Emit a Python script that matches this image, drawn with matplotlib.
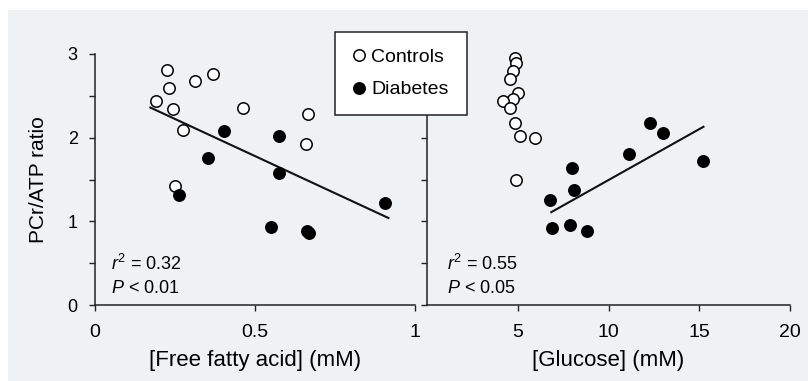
import matplotlib
matplotlib.use("Agg")
import matplotlib.pyplot as plt
from matplotlib.patches import Rectangle
from matplotlib.lines import Line2D
from matplotlib.ticker import MultipleLocator

# Free fatty acid panel
ffa_ctrl_x = [0.226, 0.231, 0.191, 0.245, 0.274, 0.313, 0.370, 0.463, 0.665, 0.658, 0.251]
ffa_ctrl_y = [2.81, 2.59, 2.44, 2.34, 2.09, 2.68, 2.76, 2.35, 2.28, 1.92, 1.42]
ffa_diab_x = [0.262, 0.402, 0.352, 0.576, 0.576, 0.550, 0.661, 0.670, 0.907]
ffa_diab_y = [1.32, 2.08, 1.76, 2.02, 1.58, 0.93, 0.89, 0.86, 1.22]
ffa_fit_x = [0.173, 0.917]
ffa_fit_y = [2.36, 1.04]

# Glucose panel
glu_ctrl_x = [4.86, 4.90, 4.73, 4.57, 4.99, 4.75, 4.18, 4.59, 4.86, 5.10, 5.93, 4.90]
glu_ctrl_y = [2.95, 2.89, 2.80, 2.70, 2.53, 2.46, 2.44, 2.36, 2.18, 2.02, 2.00, 1.49]
glu_diab_x = [7.97, 8.12, 6.80, 6.91, 7.86, 8.84, 11.12, 12.28, 13.00, 15.23]
glu_diab_y = [1.64, 1.38, 1.25, 0.92, 0.96, 0.89, 1.80, 2.17, 2.06, 1.72]
glu_fit_x = [6.85, 15.23]
glu_fit_y = [1.11, 2.13]

font = ['Liberation Sans', 'DejaVu Sans']

plt.rcParams['font.family'] = font
plt.rcParams['mathtext.fontset'] = 'custom'
plt.rcParams['mathtext.rm'] = 'Liberation Sans'
plt.rcParams['mathtext.it'] = 'Liberation Sans:italic'

bg = '#f0f1f3'
axc = '#222222'

fig = plt.figure(figsize=(8.08, 3.81), dpi=100, facecolor='white')
fig.patches.append(Rectangle((8 / 808, 0), 1, (381 - 10) / 381, transform=fig.transFigure,
                             facecolor=bg, edgecolor='none', zorder=-10))

ax1 = fig.add_axes([95 / 808, 76 / 381, 320 / 808, 251 / 381])
ax2 = fig.add_axes([427 / 808, 76 / 381, 363 / 808, 251 / 381])

msize = 8.2
for ax in (ax1, ax2):
    ax.set_facecolor('none')
    ax.spines['top'].set_visible(False)
    ax.spines['right'].set_visible(False)
    for s in ('left', 'bottom'):
        ax.spines[s].set_color(axc)
        ax.spines[s].set_linewidth(1.1)
    ax.set_ylim(0, 3)
    ax.yaxis.set_major_locator(MultipleLocator(1))
    ax.yaxis.set_minor_locator(MultipleLocator(0.5))
    ax.tick_params(which='both', direction='out', length=4.5, width=1.0, color=axc)
    ax.tick_params(axis='x', which='minor', bottom=False)

ax1.set_xlim(0, 1)
ax1.set_xticks([0, 0.5, 1])
ax1.set_xticklabels(['0', '0.5', '1'])
ax1.set_yticks([0, 1, 2, 3])
ax1.set_yticklabels(['0', '1', '2', '3'])
ax1.tick_params(axis='x', labelsize=14, pad=9)
ax1.tick_params(axis='y', labelsize=13, pad=8)

ax2.set_xlim(0, 20)
ax2.set_xticks([5, 10, 15, 20])
ax2.set_xticklabels(['5', '10', '15', '20'])
ax2.tick_params(axis='y', labelleft=False)
ax2.tick_params(axis='x', labelsize=14, pad=9)

ax1.plot(ffa_fit_x, ffa_fit_y, color='#111111', lw=1.5, zorder=2)
ax1.plot(ffa_ctrl_x, ffa_ctrl_y, 'o', ms=msize, mfc='white', mec='black', mew=1.1, zorder=3, clip_on=False)
ax1.plot(ffa_diab_x, ffa_diab_y, 'o', ms=msize, mfc='black', mec='black', mew=1.1, zorder=3, clip_on=False)

ax2.plot(glu_fit_x, glu_fit_y, color='#111111', lw=1.5, zorder=2)
ax2.plot(glu_ctrl_x, glu_ctrl_y, 'o', ms=msize, mfc='white', mec='black', mew=1.1, zorder=3, clip_on=False)
ax2.plot(glu_diab_x, glu_diab_y, 'o', ms=msize, mfc='black', mec='black', mew=1.1, zorder=3, clip_on=False)

ax1.set_xlabel('[Free fatty acid] (mM)', fontsize=16, labelpad=7)
ax2.set_xlabel('[Glucose] (mM)', fontsize=16, labelpad=7)
ax1.set_ylabel('PCr/ATP ratio', fontsize=15, labelpad=14)

ax1.text(0.05, 0.14, r'$\mathit{r}^{2}$ = 0.32', transform=ax1.transAxes, fontsize=13)
ax1.text(0.05, 0.048, r'$\mathit{P}$ < 0.01', transform=ax1.transAxes, fontsize=13)
ax2.text(0.055, 0.14, r'$\mathit{r}^{2}$ = 0.55', transform=ax2.transAxes, fontsize=13)
ax2.text(0.055, 0.048, r'$\mathit{P}$ < 0.05', transform=ax2.transAxes, fontsize=13)

handles = [Line2D([], [], ls='none', marker='o', ms=msize, mfc='white', mec='black', mew=1.1),
           Line2D([], [], ls='none', marker='o', ms=msize, mfc='black', mec='black', mew=1.1)]
leg = fig.legend(handles, ['Controls', 'Diabetes'], loc='upper left',
                 bbox_to_anchor=(335 / 808, (381 - 113) / 381, 132 / 808, 81 / 381), mode='expand',
                 frameon=True, fancybox=False, framealpha=1, edgecolor='#222222',
                 prop={'size': 14}, handletextpad=0.2, handlelength=0.8,
                 borderpad=0.85, labelspacing=0.75, borderaxespad=0)
leg.get_frame().set_linewidth(1.1)
leg.set_zorder(20)

fig.savefig('out.png', dpi=100, facecolor='white')
